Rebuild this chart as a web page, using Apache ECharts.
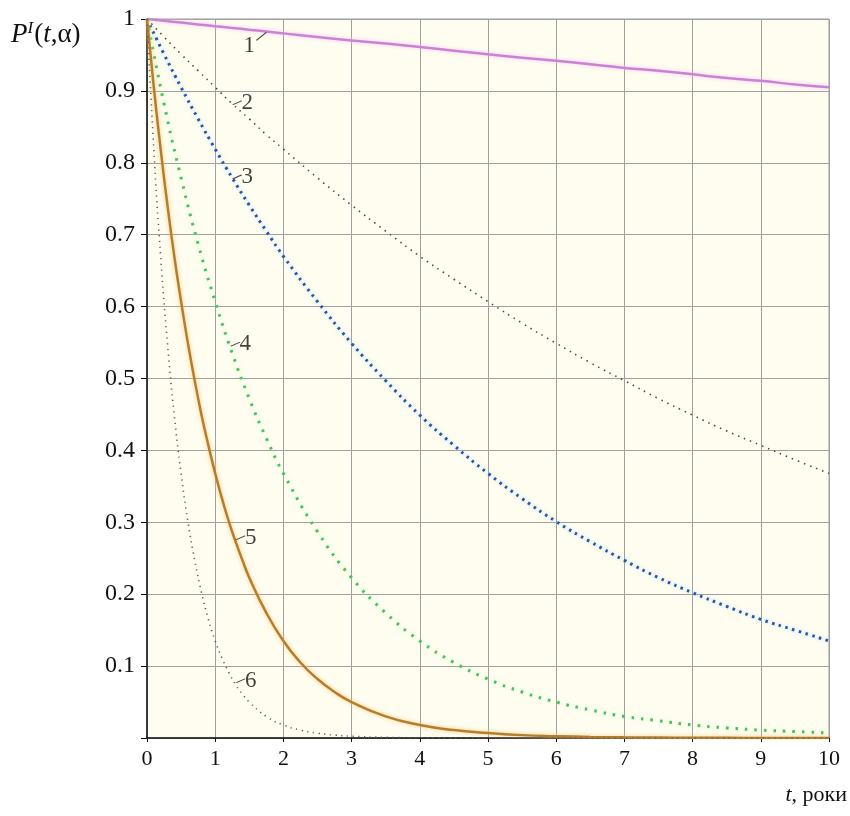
<!DOCTYPE html>
<html>
<head>
<meta charset="utf-8">
<script src="https://cdn.jsdelivr.net/npm/echarts@6/dist/echarts.min.js"></script>
<style>html,body{margin:0;padding:0;background:#fff}#c{width:850px;height:816px}</style>
</head>
<body>
<div id="c"></div>
<script>
// ---- data ----
var tCommon = [0,0.25,0.5,0.75,1,1.25,1.5,1.75,2,2.5,3,3.5,4,4.5,5,5.5,6,6.5,7,7.5,8,8.5,9,9.5,10];
var curve1 = [1,0.9975,0.995,0.9925,0.990,0.9876,0.985,0.9827,0.980,0.975,0.970,0.966,0.961,0.956,0.951,0.946,0.942,0.937,0.932,0.928,0.923,0.918,0.914,0.909,0.905];
var curve2 = [1,0.975,0.951,0.928,0.905,0.882,0.861,0.839,0.819,0.779,0.741,0.705,0.670,0.638,0.607,0.577,0.549,0.522,0.497,0.472,0.449,0.427,0.407,0.387,0.368];
var curve3 = [1,0.951,0.905,0.861,0.819,0.779,0.741,0.705,0.670,0.607,0.549,0.497,0.449,0.407,0.368,0.333,0.301,0.273,0.247,0.223,0.202,0.183,0.165,0.150,0.135];
var curve4 = [1,0.882,0.779,0.687,0.607,0.535,0.472,0.417,0.368,0.287,0.223,0.174,0.135,0.105,0.082,0.064,0.050,0.039,0.030,0.024,0.018,0.014,0.011,0.009,0.007];
var tFine5 = [0,0.1,0.2,0.3,0.4,0.5,0.6,0.7,0.8,0.9,1,1.1,1.2,1.3,1.4,1.5,1.75,2,2.25,2.5,2.75,3,3.5,4,4.5,5,5.5,6,6.5,7,7.5,8,8.5,9,9.5,10];
var curve5 = [1,0.905,0.819,0.741,0.670,0.607,0.549,0.497,0.449,0.407,0.368,0.333,0.301,0.273,0.247,0.223,0.174,0.135,0.105,0.082,0.064,0.050,0.030,0.018,0.011,0.007,0.004,0.0025,0.0015,0.0009,0.0006,0.0003,0.0002,0.0001,0.0001,0.00005];
var tFine6 = [0,0.1,0.2,0.3,0.4,0.5,0.6,0.7,0.8,0.9,1,1.1,1.2,1.3,1.4,1.5,1.75,2,2.25,2.5,2.75,3,3.5,4,5,6,7,8,9,10];
var curve6 = [1,0.819,0.670,0.549,0.449,0.368,0.301,0.247,0.202,0.165,0.135,0.111,0.091,0.074,0.061,0.050,0.030,0.018,0.011,0.0067,0.0041,0.0025,0.0009,0.0003,0.00005,0,0,0,0,0];
var xTicks = ['0','1','2','3','4','5','6','7','8','9','10'];
var yTicks = ['0.1','0.2','0.3','0.4','0.5','0.6','0.7','0.8','0.9','1'];
var curveNames = ['1','2','3','4','5','6'];
// index (in each curve's own t array) where the number label is attached
var labelIdx = [7,5,5,5,13,13];

function pairs(ts, vs){ return ts.map(function(t,i){ return [t, vs[i]]; }); }

var curves = [
  {t:tCommon, v:curve1, color:'#cc82d4', width:2.5, type:'solid', glow:'rgba(240,190,245,0.8)'},
  {t:tCommon, v:curve2, color:'#4a4a4a', width:1.6, type:[1.5,5], glow:null},
  {t:tCommon, v:curve3, color:'#2458a8', width:3, type:[2.5,4.5], glow:'rgba(150,200,240,0.7)'},
  {t:tCommon, v:curve4, color:'#46c25c', width:3, type:[2.5,7], glow:'rgba(170,235,180,0.7)'},
  {t:tFine5, v:curve5, color:'#b67d2e', width:2.5, type:'solid', glow:'rgba(245,200,110,0.9)'},
  {t:tFine6, v:curve6, color:'#5e5e5e', width:1.6, type:[1.2,4.5], glow:null}
];
// pixel nudges for the number annotations
var labelShift = [[0,0],[0,0],[0,0],[-2,-8],[0,-3],[0,-3]];

var series = [];
curves.forEach(function(c){
  series.push({
    type:'line', smooth:true, showSymbol:false, silent:true, z:3,
    data: pairs(c.t, c.v),
    lineStyle:{color:c.color, width:c.width, type:c.type,
      shadowColor:c.glow||'transparent', shadowBlur:c.glow?4:0}
  });
});
curves.forEach(function(c, k){
  var i = labelIdx[k];
  var first = (k===0);
  var sh = labelShift[k];
  series.push({
    type:'scatter', silent:true, z:5,
    data:[[c.t[i], c.v[i]]],
    symbol: first ? 'path://M10,0 L0,8' : 'path://M0,4 L10,0',
    symbolSize: first ? [10,8] : [9,4],
    symbolOffset: first ? [-5,5] : [5+sh[0],-1+sh[1]],
    itemStyle:{color:'none', borderColor:'#222', borderWidth:1.2},
    label:{show:true, formatter:curveNames[k], position:'inside',
      offset: first ? [-12,10] : [10,0],
      fontFamily:'Liberation Serif', fontSize:23, color:'#111'}
  });
});

var chart = echarts.init(document.getElementById('c'));
chart.setOption({
  animation:false,
  backgroundColor:'#ffffff',
  grid:{left:147, right:21, top:19, bottom:78, show:true, backgroundColor:'#fffdf0', borderColor:'#9a9a9a', borderWidth:1},
  xAxis:{type:'value', min:0, max:10, interval:1,
    axisLine:{show:true, lineStyle:{color:'#111', width:1.5}},
    axisTick:{show:true, length:4, lineStyle:{color:'#111'}},
    splitLine:{show:true, lineStyle:{color:'#a0a0a0', width:1}},
    axisLabel:{margin:10, fontFamily:'Liberation Serif', fontSize:22, color:'#111',
      formatter:function(v){ return xTicks[Math.round(v)]; }}
  },
  yAxis:{type:'value', min:0, max:1, interval:0.1,
    axisLine:{show:true, lineStyle:{color:'#111', width:1.5}},
    axisTick:{show:true, length:6, lineStyle:{color:'#111'}},
    splitLine:{show:true, lineStyle:{color:'#a0a0a0', width:1}},
    axisLabel:{margin:12, fontFamily:'Liberation Serif', fontSize:24, color:'#111',
      formatter:function(v){ var i=Math.round(v*10); return i===0?'':yTicks[i-1]; }}
  },
  series:series,
  graphic:[
    {type:'text', left:11, top:20, style:{
      text:'{i|P}{s|I}{n|(}{i|t}{n|,α)}',
      rich:{
        i:{fontFamily:'Liberation Serif', fontStyle:'italic', fontSize:27, fill:'#111'},
        n:{fontFamily:'Liberation Serif', fontSize:27, fill:'#111'},
        s:{fontFamily:'Liberation Serif', fontStyle:'italic', fontSize:17, fill:'#111', verticalAlign:'top', padding:[0,1,12,0]}
      }}},
    {type:'text', right:3, top:784, style:{
      text:'{i|t}{n|, роки}',
      rich:{
        i:{fontFamily:'Liberation Serif', fontStyle:'italic', fontSize:22, fill:'#111'},
        n:{fontFamily:'Liberation Serif', fontSize:22, fill:'#111'}
      }}}
  ]
});
</script>
</body>
</html>
